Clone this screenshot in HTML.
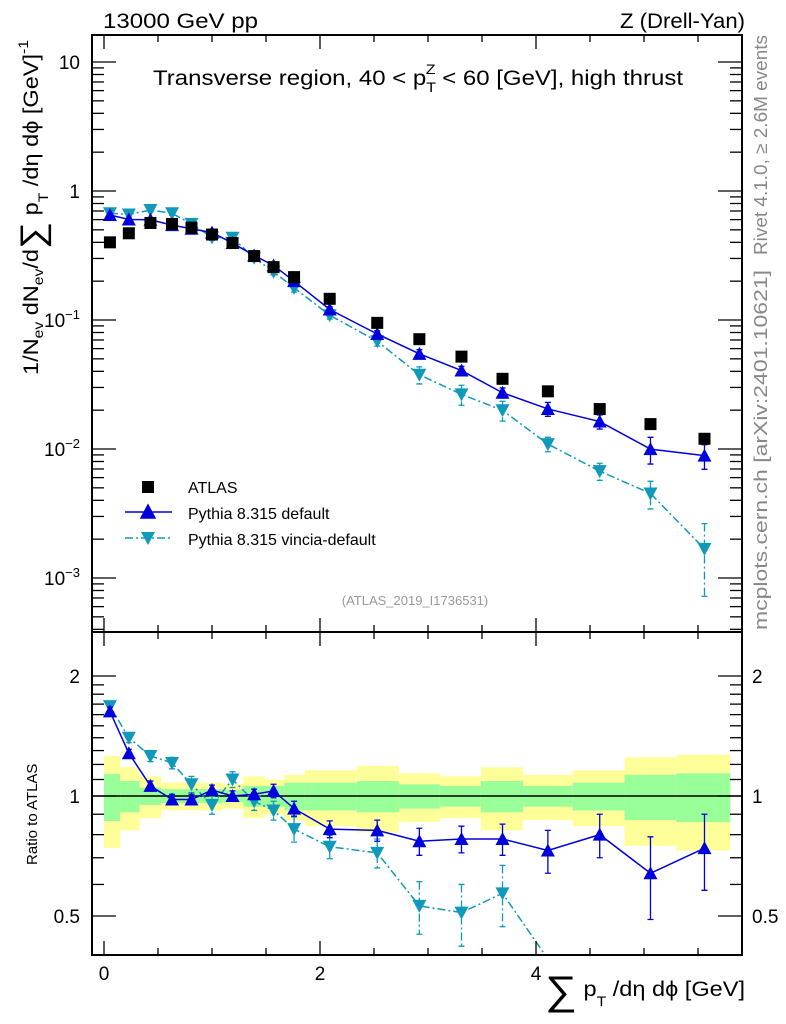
<!DOCTYPE html>
<html><head><meta charset="utf-8"><style>
body{margin:0;background:#fff;overflow:hidden;}
svg{font-family:"Liberation Sans",sans-serif;display:block;}
</style></head><body>
<svg id="c" width="786" height="1024" xmlns="http://www.w3.org/2000/svg">
<text x="103" y="28" font-size="21" textLength="155" lengthAdjust="spacingAndGlyphs">13000 GeV pp</text>
<text x="620" y="28" font-size="21" textLength="125" lengthAdjust="spacingAndGlyphs">Z (Drell-Yan)</text>
<text x="153" y="85" font-size="21" textLength="530" lengthAdjust="spacingAndGlyphs">Transverse region, 40 &lt; p<tspan font-size="14" dy="7">T</tspan><tspan font-size="14" dx="-9" dy="-18">Z</tspan><tspan dy="11"> &lt; 60 [GeV], high thrust</tspan></text>
<text x="415" y="605" font-size="13" fill="#999" text-anchor="middle">(ATLAS_2019_I1736531)</text>
<text transform="translate(767,255) rotate(-90)" font-size="18" fill="#888" textLength="220" lengthAdjust="spacingAndGlyphs">Rivet 4.1.0, ≥ 2.6M events</text>
<text transform="translate(767,630) rotate(-90)" font-size="18" fill="#888" textLength="360" lengthAdjust="spacingAndGlyphs">mcplots.cern.ch [arXiv:2401.10621]</text>
<text transform="translate(38,375) rotate(-90)" font-size="21" textLength="335" lengthAdjust="spacingAndGlyphs">1/N<tspan font-size="14" dy="5">ev</tspan><tspan dy="-5"> dN</tspan><tspan font-size="14" dy="5">ev</tspan><tspan dy="-5">/d</tspan><tspan font-size="34" dy="6">∑</tspan><tspan dy="-6"> p</tspan><tspan font-size="14" dy="10">T</tspan><tspan dy="-10"> /dη dϕ  [GeV]</tspan><tspan font-size="14" dy="-10">-1</tspan></text>
<text transform="translate(37,865) rotate(-90)" font-size="15">Ratio to ATLAS</text>
<text x="545" y="996" font-size="21" textLength="200" lengthAdjust="spacingAndGlyphs"><tspan font-size="40" dy="8">∑</tspan><tspan dy="-8"> p</tspan><tspan font-size="14" dy="10">T</tspan><tspan dy="-10"> /dη dϕ [GeV]</tspan></text>
<g id="bands"></g><g id="marks"></g><g id="axes"></g>
</svg>
<script>
const xCenters=[0.055,0.23,0.43,0.63,0.81,1.0,1.19,1.39,1.57,1.76,2.09,2.53,2.92,3.31,3.69,4.11,4.59,5.06,5.56];
const binEdges=[0,0.15,0.33,0.53,0.72,0.91,1.1,1.29,1.49,1.67,1.86,2.34,2.73,3.11,3.49,3.88,4.34,4.82,5.3,5.8];
const atlasVals=[0.40,0.47,0.565,0.555,0.52,0.46,0.395,0.313,0.257,0.215,0.146,0.095,0.071,0.052,0.035,0.028,0.0204,0.0156,0.012];
const defRatio=[1.63,1.28,1.06,0.98,0.98,1.035,1.0,1.01,1.03,0.93,0.826,0.82,0.77,0.78,0.78,0.73,0.80,0.64,0.74];
const defErr=[0.04,0.03,0.03,0.03,0.03,0.03,0.03,0.03,0.04,0.04,0.04,0.05,0.06,0.06,0.07,0.09,0.1,0.15,0.16];
const vinRatio=[1.68,1.40,1.26,1.21,1.07,0.95,1.10,0.97,0.92,0.826,0.746,0.72,0.53,0.51,0.57,0.39,0.33,0.29,0.14];
const vinErr=[0.04,0.04,0.04,0.04,0.05,0.05,0.05,0.05,0.05,0.06,0.05,0.06,0.08,0.09,0.1,0.05,0.05,0.07,0.08];
const yellowHalf=[0.26,0.18,0.12,0.08,0.08,0.08,0.07,0.12,0.1,0.13,0.16,0.19,0.14,0.12,0.18,0.13,0.16,0.25,0.27];
const greenHalf=[0.135,0.09,0.05,0.04,0.04,0.04,0.035,0.06,0.06,0.08,0.08,0.09,0.07,0.06,0.09,0.06,0.08,0.13,0.14];
const NS='http://www.w3.org/2000/svg';
const L=92,R=742,T=35,MID=632,B=955;
const X=v=>104+v*108;
const YT=v=>62+(1-Math.log10(v))*129;
const YR=v=>796-Math.log10(v)*398.7;
function mk(tag,attrs,parent){const e=document.createElementNS(NS,tag);for(const k in attrs)e.setAttribute(k,attrs[k]);document.getElementById(parent).appendChild(e);return e;}
for(let i=0;i<binEdges.length-1;i++){
 const x0=X(binEdges[i]),x1=X(binEdges[i+1]);
 let e=mk('rect',{x:x0,y:YR(1+yellowHalf[i]),width:x1-x0,height:YR(1-yellowHalf[i])-YR(1+yellowHalf[i]),fill:'#ffff99'},'bands');
 
 
 e=mk('rect',{x:x0,y:YR(1+greenHalf[i]),width:x1-x0,height:YR(1-greenHalf[i])-YR(1+greenHalf[i]),fill:'#99ff99'},'bands');
 
 
}
let ln=mk('line',{x1:L,x2:R,y1:YR(1),y2:YR(1),stroke:'#000','stroke-width':1.5},'bands');


function clipY(y,lo,hi){return Math.max(lo,Math.min(hi,y));}
function series(ratio,err,color,dash,down,nm){
 const ptsT=[],ptsR=[];
 ratio.forEach((r,i)=>{
  const v=r*atlasVals[i];
  ptsT.push([X(xCenters[i]),YT(v)]);
  ptsR.push([X(xCenters[i]),YR(r)]);
 });
 let p=mk('polyline',{points:ptsT.map(p=>p.join(',')).join(' '),fill:'none',stroke:color,'stroke-width':1.5,'stroke-dasharray':dash},'marks');
 
 
 p=mk('polyline',{points:ptsR.map(p=>p.join(',')).join(' '),fill:'none',stroke:color,'stroke-width':1.5,'stroke-dasharray':dash,'clip-path':'url(#rc)'},'marks');
 
 
 ratio.forEach((r,i)=>{
  const v=r*atlasVals[i],rel=err[i]/r;
  [[YT,v,T,MID],[YR,r,MID,B]].forEach(([f,val,lo,hi])=>{
   const x=X(xCenters[i]),y=f(val);
   if(y>hi||y<lo)return;
   const y1=clipY(f(val*(1+rel)),lo,hi),y2=clipY(f(val*(1-rel)),lo,hi);
   let e=mk('path',{d:`M${x},${y1}V${y2}M${x-3},${y1}h6M${x-3},${y2}h6`,stroke:color,'stroke-width':1.3,'stroke-dasharray':dash,fill:'none'},'marks');
   
   
   const d=down?`M${x-7},${y-6}L${x+7},${y-6}L${x},${y+7}Z`:`M${x-7},${y+6}L${x+7},${y+6}L${x},${y-7}Z`;
   e=mk('path',{d:d,fill:color},'marks');
   
   
  });
 });
}
const defs=mk('defs',{},'marks');const cp=document.createElementNS(NS,'clipPath');cp.setAttribute('id','rc');defs.appendChild(cp);
const cr=document.createElementNS(NS,'rect');cr.setAttribute('x',L);cr.setAttribute('y',MID);cr.setAttribute('width',R-L);cr.setAttribute('height',B-MID);cp.appendChild(cr);
series(vinRatio,vinErr,'#1199bb','8,3,2,3',true,'vincia');
series(defRatio,defErr,'#0000dd','',false,'pythia-default');
atlasVals.forEach((v,i)=>{
 const e=mk('rect',{x:X(xCenters[i])-6,y:YT(v)-6,width:12,height:12,fill:'#000'},'marks');
 
 
});
let e=mk('rect',{x:142,y:481,width:12,height:12,fill:'#000'},'marks');

e=mk('path',{d:'M125,512H172M141,518L155,518L148,505Z',stroke:'#0000dd','stroke-width':1.5,fill:'#0000dd'},'marks');

e=mk('path',{d:'M125,538H172',stroke:'#1199bb','stroke-width':1.5,'stroke-dasharray':'8,3,2,3'},'marks');

e=mk('path',{d:'M141,532L155,532L148,545Z',fill:'#1199bb'},'marks');

[['ATLAS',493,'legend-atlas'],['Pythia 8.315 default',519,'legend-default'],['Pythia 8.315 vincia-default',545,'legend-vincia']].forEach(([t,y,n])=>{
 const q=mk('text',{x:188,y:y,'font-size':16},'marks');q.textContent=t;
 
 
});
[[T,MID],[MID,B]].forEach(([a,b])=>{
 const f=mk('rect',{x:L,y:a,width:R-L,height:b-a,fill:'none',stroke:'#000','stroke-width':2},'axes');
 
 
});
const xTickLabels=['0','2','4'];
for(let v=0;v<=5.5;v+=0.5){
 const x=X(v),maj=(v%2===0),len=maj?14:7;
 [[T,1],[MID,1],[MID,-1],[B,-1]].forEach(([y,s])=>{
  const t=mk('line',{x1:x,x2:x,y1:y,y2:y+s*len,stroke:'#000','stroke-width':1.3},'axes');
  
  
 });
}
xTickLabels.forEach(s=>{
 const q=mk('text',{x:X(+s),y:980,'font-size':19,'text-anchor':'middle'},'axes');q.textContent=s;
 
 
});
const yDecades=[10,1,0.1,0.01,0.001];
const yLabels=['10','1','10<tspan font-size="13" dy="-8">−1</tspan>','10<tspan font-size="13" dy="-8">−2</tspan>','10<tspan font-size="13" dy="-8">−3</tspan>'];
for(let d=-4;d<=1;d++)for(let m=1;m<10;m++){
 const v=m*Math.pow(10,d),y=YT(v);
 if(y<T||y>MID)continue;
 const len=m===1?24:12;
 [[L,1],[R,-1]].forEach(([x,s])=>{
  const t=mk('line',{x1:x,x2:x+s*len,y1:y,y2:y,stroke:'#000','stroke-width':1.3},'axes');
  
  
 });
}
yDecades.forEach((v,i)=>{
 const q=mk('text',{x:80,y:YT(v)+7,'font-size':19,'text-anchor':'end'},'axes');q.innerHTML=yLabels[i];
 
 
});
const rTicks=[0.5,0.6,0.7,0.8,0.9,1,1.1,1.2,1.3,1.4,1.5,1.6,1.7,1.8,1.9,2];
rTicks.forEach(v=>{
 const y=YR(v),maj=(v===0.5||v===1||v===2),len=maj?24:12;
 [[L,1],[R,-1]].forEach(([x,s])=>{
  const t=mk('line',{x1:x,x2:x+s*len,y1:y,y2:y,stroke:'#000','stroke-width':1.3},'axes');
  
  
 });
});
const rLabels=['0.5','1','2'];
rLabels.forEach(s=>{
 [[80,'end'],[752,'start']].forEach(([x,a])=>{
  const q=mk('text',{x:x,y:YR(+s)+7,'font-size':19,'text-anchor':a},'axes');q.textContent=s;
  
  
 });
});
</script>
</body></html>
